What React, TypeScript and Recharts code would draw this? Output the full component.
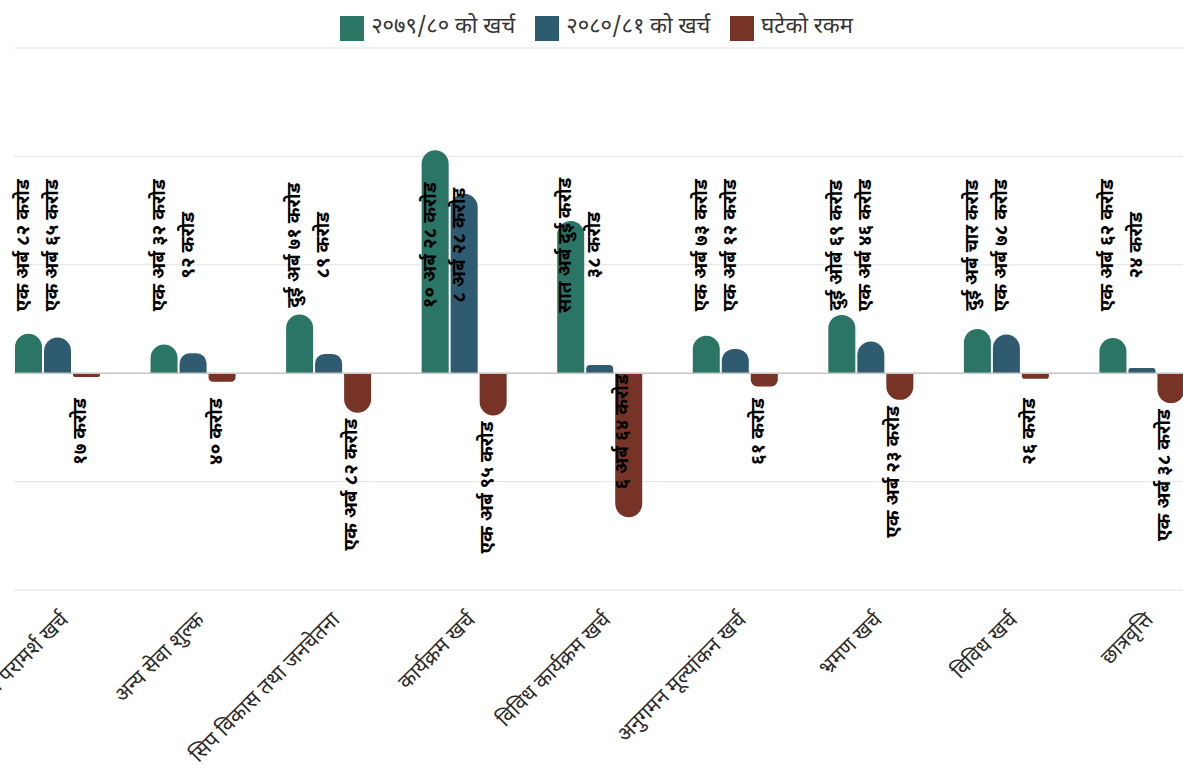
import React from 'react';
import { BarChart, Bar, XAxis, YAxis, CartesianGrid, Legend, LabelList, ReferenceLine } from 'recharts';

const categories = [
  'सेवा परामर्श खर्च',
  'अन्य सेवा शुल्क',
  'सिप विकास तथा जनचेतना',
  'कार्यक्रम खर्च',
  'विविध कार्यक्रम खर्च',
  'अनुगमन मूल्यांकन खर्च',
  'भ्रमण खर्च',
  'विविध खर्च',
  'छात्रवृत्ति',
];

// values in अर्ब (billion NPR)
const spending7980 = [1.82, 1.32, 2.71, 10.28, 7.02, 1.73, 2.69, 2.04, 1.62];
const spending8081 = [1.65, 0.92, 0.89, 8.28, 0.38, 1.12, 1.46, 1.78, 0.24];
const decrease = [-0.17, -0.4, -1.82, -1.95, -6.64, -0.61, -1.23, -0.26, -1.38];

const labels7980 = [
  'एक अर्ब ८२ करोड',
  'एक अर्ब ३२ करोड',
  'दुई अर्ब ७१ करोड',
  '१० अर्ब २८ करोड',
  'सात अर्ब दुई करोड',
  'एक अर्ब ७३ करोड',
  'दुई ओर्ब ६९ करोड',
  'दुई अर्ब चार करोड',
  'एक अर्ब ६२ करोड',
];
const labels8081 = [
  'एक अर्ब ६५ करोड',
  '९२ करोड',
  '८९ करोड',
  '८ अर्ब २८ करोड',
  '३८ करोड',
  'एक अर्ब १२ करोड',
  'एक अर्ब ४६ करोड',
  'एक अर्ब ७८ करोड',
  '२४ करोड',
];
const labelsDecrease = [
  '१७ करोड',
  '४० करोड',
  'एक अर्ब ८२ करोड',
  'एक अर्ब ९५ करोड',
  '६ अर्ब ६४ करोड',
  '६१ करोड',
  'एक अर्ब २३ करोड',
  '२६ करोड',
  'एक अर्ब ३८ करोड',
];

const seriesNames = ['२०७९/८० को खर्च', '२०८०/८१ को खर्च', 'घटेको रकम'];
const seriesColors = ['#2b7564', '#2f5b71', '#773326'];
const yTicks = [-10, -5, 0, 5, 10, 15];

const data = categories.map((name, i) => ({
  name,
  a: spending7980[i],
  b: spending8081[i],
  c: decrease[i],
  la: labels7980[i],
  lb: labels8081[i],
  lc: labelsDecrease[i],
}));

const FONT = "'Noto Sans Devanagari', 'Noto Sans', 'Mukta', sans-serif";

const getRect = (props: any) => {
  const vb = props.viewBox || {};
  const x = props.x ?? vb.x;
  const y = props.y ?? vb.y;
  const width = props.width ?? vb.width;
  const height = props.height ?? vb.height;
  return { x: Number(x), y: Number(y), width: Number(width), height: Number(height) };
};

const PositiveLabel = (props: any) => {
  const { x, y, width, height } = getRect(props);
  const bottom = Math.max(y, y + height);
  const cx = x + width / 2 - 4;
  const cy = bottom - 128;
  return (
    <text
      x={cx}
      y={cy}
      transform={`rotate(-90, ${cx}, ${cy})`}
      textAnchor="middle"
      dominantBaseline="central"
      fontFamily={FONT}
      fontWeight={700}
      fontSize={19}
      fill="#000"
    >
      {props.value}
    </text>
  );
};

const NegativeLabel = (props: any) => {
  const { x, y, width, height } = getRect(props);
  const top = Math.min(y, y + height);
  const bottom = Math.max(y, y + height);
  const cx = x + width / 2 - 5;
  const len = bottom - top;
  const ay = len > 120 ? top + 1 : Math.max(bottom + 6, top + 25);
  return (
    <text
      x={cx}
      y={ay}
      transform={`rotate(-90, ${cx}, ${ay})`}
      textAnchor="end"
      dominantBaseline="central"
      fontFamily={FONT}
      fontWeight={700}
      fontSize={19}
      fill="#000"
    >
      {props.value}
    </text>
  );
};

const XTick = (props: any) => {
  const { x, y, payload } = props;
  const tx = x + 12;
  const ty = y + 23;
  return (
    <text
      x={tx}
      y={ty}
      transform={`rotate(-45, ${tx}, ${ty})`}
      textAnchor="end"
      fontFamily={FONT}
      fontSize={21}
      fill="#2a2a2a"
    >
      {payload.value}
    </text>
  );
};

const renderLegend = () => (
  <div
    style={{
      display: 'flex',
      justifyContent: 'center',
      alignItems: 'flex-start',
      height: 40,
      paddingTop: 4,
      paddingLeft: 10,
      boxSizing: 'border-box',
      fontFamily: FONT,
      fontSize: 22,
      color: '#333',
    }}
  >
    {seriesNames.map((n, i) => (
      <div key={n} style={{ display: 'flex', alignItems: 'center', marginRight: i < 2 ? 20 : 0, height: 32 }}>
        <span style={{ width: 24, height: 25, background: seriesColors[i], display: 'inline-block', marginRight: 7 }} />
        <span style={{ lineHeight: '32px' }}>{n}</span>
      </div>
    ))}
  </div>
);

export default function App() {
  return (
    <div style={{ position: 'absolute', left: 0, top: 0, width: 1183, height: 772, overflow: 'hidden', background: '#fff' }}>
      <BarChart
        width={1210}
        height={772}
        data={data}
        margin={{ top: 8, right: 0, bottom: 0, left: 14 }}
        barSize={27}
        barGap={2}
      >
        <CartesianGrid vertical={false} stroke="#e3e3e3" />
        <XAxis
          dataKey="name"
          interval={0}
          axisLine={false}
          tickLine={false}
          height={182}
          padding={{ left: -24, right: 0 }}
          tick={<XTick />}
        />
        <YAxis hide domain={[-10, 15]} ticks={yTicks} />
        <Legend verticalAlign="top" content={renderLegend} wrapperStyle={{ top: 8, left: 0, width: 1183 }} />
        <ReferenceLine y={0} stroke="#c8c8c8" strokeWidth={1.5} />
        <Bar dataKey="a" name={seriesNames[0]} fill={seriesColors[0]} radius={[14, 14, 0, 0]} isAnimationActive={false}>
          <LabelList dataKey="la" content={<PositiveLabel />} />
        </Bar>
        <Bar dataKey="b" name={seriesNames[1]} fill={seriesColors[1]} radius={[14, 14, 0, 0]} isAnimationActive={false}>
          <LabelList dataKey="lb" content={<PositiveLabel />} />
        </Bar>
        <Bar dataKey="c" name={seriesNames[2]} fill={seriesColors[2]} radius={[14, 14, 0, 0]} isAnimationActive={false}>
          <LabelList dataKey="lc" content={<NegativeLabel />} />
        </Bar>
      </BarChart>
    </div>
  );
}
